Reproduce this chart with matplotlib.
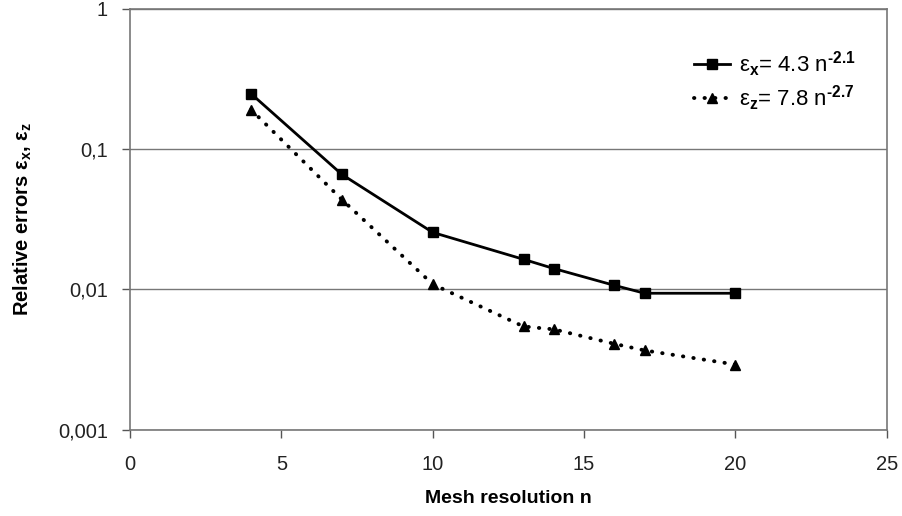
import matplotlib
matplotlib.use("Agg")
import matplotlib.pyplot as plt
from matplotlib.ticker import FixedLocator, FixedFormatter, NullLocator

n_x = [4, 7, 10, 13, 14, 16, 17, 20]
err_x = [0.248, 0.066, 0.0255, 0.0164, 0.0141, 0.0107, 0.0094, 0.0094]
n_z = [4, 7, 10, 13, 14, 16, 17, 20]
err_z = [0.191, 0.0437, 0.0109, 0.00545, 0.0052, 0.0041, 0.00368, 0.00292]

x_ticks = [0, 5, 10, 15, 20, 25]
y_ticks = [0.001, 0.01, 0.1, 1]
y_tick_labels = ["0,001", "0,01", "0,1", "1"]

plt.rcParams['font.family'] = ['Liberation Sans', 'DejaVu Sans']
plt.rcParams['mathtext.fontset'] = 'custom'
plt.rcParams['mathtext.rm'] = 'Liberation Sans'
plt.rcParams['mathtext.it'] = 'Liberation Sans'
plt.rcParams['mathtext.bf'] = 'Liberation Sans:bold'

fig = plt.figure(figsize=(9.03, 5.16), dpi=100)
ax = fig.add_axes([0.144, 0.167, 0.838, 0.816])

ax.plot(n_x, err_x, color='black', linewidth=2, marker='s', markersize=7.5,
        label='ε$_{\\mathbf{x}}$= 4.3 n$^{\\mathbf{\u20102.1}}$')
ax.plot(n_z, err_z, color='black', linewidth=2.8, linestyle=(0, (0.1, 2.6)),
        dash_capstyle='round', marker='^', markersize=7.5,
        label='ε$_{\\mathbf{z}}$= 7.8 n$^{\\mathbf{\u20102.7}}$')

ax.set_yscale('log')
ax.set_xlim(0, 25)
ax.set_ylim(0.001, 1)
ax.xaxis.set_major_locator(FixedLocator(x_ticks))
ax.yaxis.set_major_locator(FixedLocator(y_ticks))
ax.yaxis.set_major_formatter(FixedFormatter(y_tick_labels))
ax.yaxis.set_minor_locator(NullLocator())
ax.tick_params(axis='both', direction='out', length=6, width=1,
               labelsize=14.5, colors='#222222')
ax.tick_params(axis='both', color='#555555')
ax.tick_params(axis='x', pad=12)
ax.tick_params(axis='y', pad=10)
ax.grid(axis='y', color='#777777', linewidth=1)
ax.set_axisbelow(True)
for s in ax.spines.values():
    s.set_color('#777777')
    s.set_linewidth(1.2)

ax.set_xlabel('Mesh resolution n', fontsize=14, fontweight='bold', labelpad=12)
ax.set_ylabel('Relative errors ε$_{\\mathbf{x}}$, ε$_{\\mathbf{z}}$', fontsize=14.5,
              fontweight='bold', labelpad=17)

leg = ax.legend(loc='upper right', bbox_to_anchor=(0.985, 0.95), frameon=False,
                fontsize=16, handlelength=1.6, handletextpad=0.4, labelspacing=0.2)

fig.savefig('out.png', dpi=100)
